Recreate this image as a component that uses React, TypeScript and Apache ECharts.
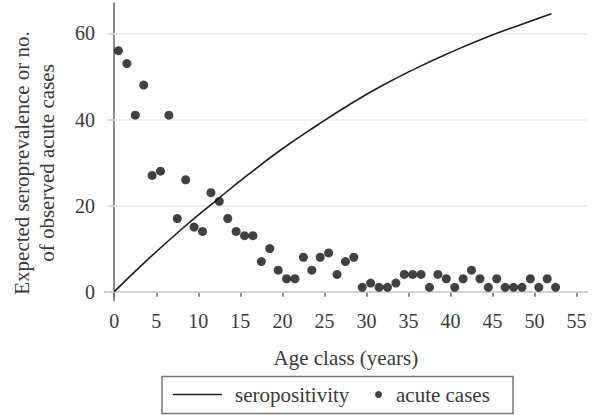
import React, { useEffect, useRef } from "react";
import * as echarts from "echarts";

// Observed acute cases per one-year age class (class midpoints 0.5, 1.5, ...)
const acuteCases = [
  56, 53, 41, 48, 27, 28, 41, 17, 26, 15,
  14, 23, 21, 17, 14, 13, 13, 7, 10, 5,
  3, 3, 8, 5, 8, 9, 4, 7, 8, 1,
  2, 1, 1, 2, 4, 4, 4, 1, 4, 3,
  1, 3, 5, 3, 1, 3, 1, 1, 1, 3,
  1, 3, 1,
];
const acuteAges = acuteCases.map((_, i) => i + 0.5);

// Expected seroprevalence curve
const seroAges = [0, 4, 8, 12, 16, 20, 24, 28, 32, 36, 40, 44, 48, 52];
const seroValues = [0, 7.5, 14.5, 21, 27.3, 33.2, 38.5, 43.5, 48, 52, 55.6, 58.9, 61.8, 64.6];

const xTicks = [0, 5, 10, 15, 20, 25, 30, 35, 40, 45, 50, 55];
const yTicks = [0, 20, 40, 60];

const FONT = "Liberation Serif, serif";
const TEXT = "#3a3a3a";
const AXIS = "#666666";

export default function App() {
  const ref = useRef<HTMLDivElement>(null);

  useEffect(() => {
    document.body.style.margin = "0";
    if (!ref.current) return;
    const chart = echarts.init(ref.current, undefined, { renderer: "svg" });
    chart.setOption({
      animation: false,
      backgroundColor: "#ffffff",
      textStyle: { fontFamily: FONT },
      grid: { left: 105, right: 7.3, top: 3.3, bottom: 114.3, containLabel: false },
      xAxis: {
        type: "value",
        min: -1.1,
        max: 56.2,
        name: "Age class (years)",
        nameLocation: "middle",
        nameGap: 47,
        nameTextStyle: { fontFamily: FONT, fontSize: 21, color: TEXT },
        axisLine: { lineStyle: { color: AXIS, width: 1.5 } },
        axisTick: { show: true, length: 5, inside: false, customValues: xTicks, lineStyle: { color: AXIS, width: 1.5 } },
        axisLabel: { customValues: xTicks, margin: 10, fontFamily: FONT, fontSize: 20, color: TEXT },
        splitLine: { show: false },
      },
      yAxis: {
        type: "value",
        min: -2.1,
        max: 67,
        axisLine: { show: true, lineStyle: { color: AXIS, width: 1.5 } },
        axisTick: { show: true, length: 5, inside: false, customValues: yTicks, lineStyle: { color: AXIS, width: 1.5 } },
        axisLabel: { customValues: yTicks, margin: 10, fontFamily: FONT, fontSize: 20, color: TEXT },
        splitLine: { show: false },
      },
      legend: [
        {
          data: [{ name: "seropositivity", icon: "rect", itemStyle: { color: "#1c1c1c" } }],
          left: 173,
          top: 384,
          padding: 0,
          itemWidth: 49,
          itemHeight: 1.6,
          selectedMode: false,
          textStyle: { fontFamily: FONT, fontSize: 21, color: TEXT, padding: [0, 0, 0, 8], lineHeight: 21 },
        },
        {
          data: [{ name: "acute cases", icon: "circle" }],
          left: 375,
          top: 384,
          padding: 0,
          itemWidth: 7,
          itemHeight: 7,
          selectedMode: false,
          textStyle: { fontFamily: FONT, fontSize: 21, color: TEXT, padding: [0, 0, 0, 9], lineHeight: 21 },
        },
      ],
      series: [
        {
          name: "seropositivity",
          type: "line",
          data: seroAges.map((a, i) => [a, seroValues[i]]),
          smooth: true,
          showSymbol: false,
          symbol: "none",
          lineStyle: { color: "#1c1c1c", width: 1.6 },
          itemStyle: { color: "#1c1c1c" },
          z: 3,
          markLine: {
            silent: true,
            symbol: "none",
            z: 1,
            label: { show: false },
            lineStyle: { color: "#ebebeb", width: 1.5, type: "solid" },
            data: yTicks.map((v) => ({ yAxis: v })),
          },
        },
        {
          name: "acute cases",
          type: "scatter",
          data: acuteAges.map((a, i) => [a, acuteCases[i]]),
          symbol: "circle",
          symbolSize: 9,
          itemStyle: { color: "#111111" },
          z: 4,
        },
      ],
      graphic: [
        {
          type: "text",
          x: 34,
          y: 163,
          rotation: Math.PI / 2,
          style: {
            text: "Expected seroprevalence or no.\nof observed acute cases",
            fontFamily: FONT,
            fontSize: 21,
            lineHeight: 25,
            fill: TEXT,
            align: "center",
            verticalAlign: "middle",
          },
        },
        {
          type: "rect",
          shape: { x: 162, y: 376.5, width: 351, height: 37 },
          style: { fill: "none", stroke: "#777777", lineWidth: 1.5 },
          z: 0,
        },
      ],
    });
    return () => chart.dispose();
  }, []);

  return (
    <>
      <style>{`#root svg text { font-family: "Liberation Serif", serif !important; }`}</style>
      <div ref={ref} style={{ width: 594, height: 415 }} />
    </>
  );
}
